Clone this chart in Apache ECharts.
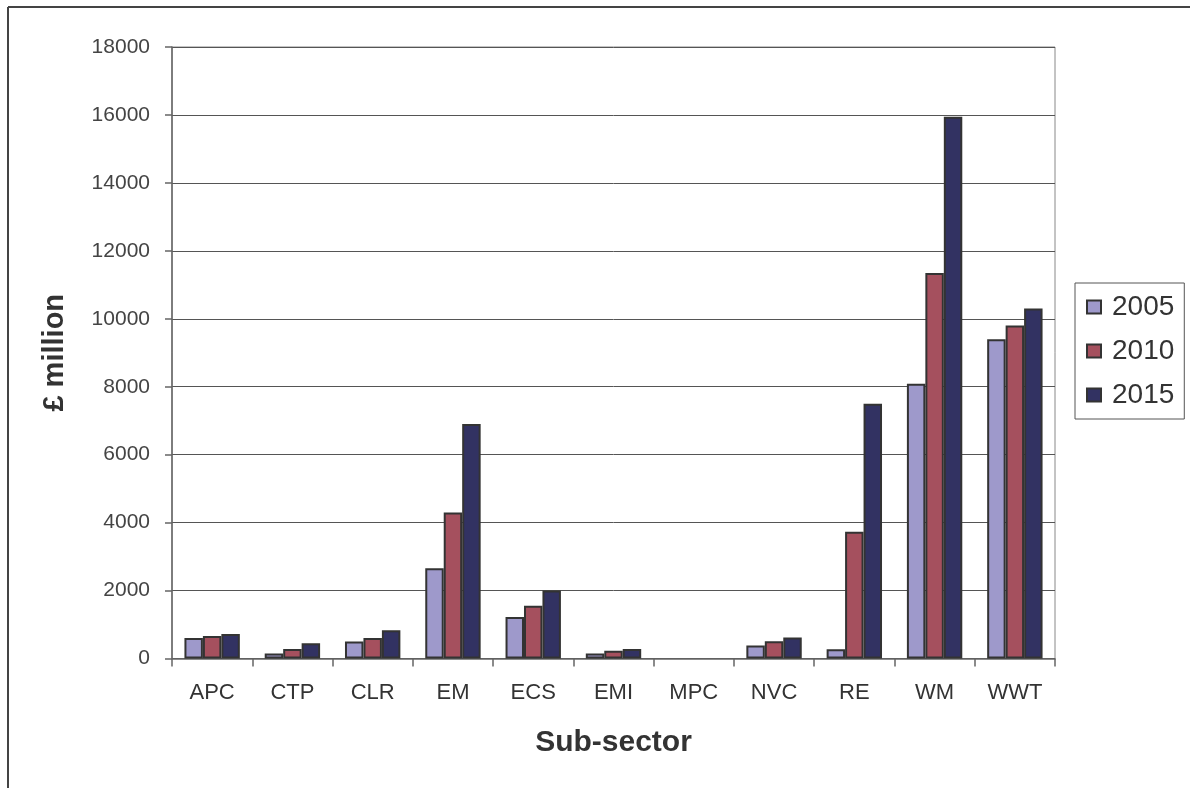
<!DOCTYPE html>
<html>
<head>
<meta charset="utf-8">
<script src="https://cdn.jsdelivr.net/npm/echarts@6/dist/echarts.min.js"></script>
<style>
html,body{margin:0;padding:0;background:#fff;}
#c{width:1190px;height:788px;}
</style>
</head>
<body>
<div id="c"></div>
<script>
const categories = ['APC','CTP','CLR','EM','ECS','EMI','MPC','NVC','RE','WM','WWT'];
const seriesNames = ['2005','2010','2015'];
const values2005 = [600, 150, 500, 2660, 1220, 150, 0, 380, 270, 8090, 9400];
const values2010 = [660, 280, 600, 4300, 1550, 230, 0, 510, 3730, 11350, 9800];
const values2015 = [720, 450, 830, 6900, 2000, 280, 0, 620, 7500, 15950, 10300];
const yTicks = [0, 2000, 4000, 6000, 8000, 10000, 12000, 14000, 16000, 18000];

const colors = ['#9E99CB', '#A5505E', '#323262'];
const allValues = [values2005, values2010, values2015];
const font = '"Liberation Sans", Arial, sans-serif';

const chart = echarts.init(document.getElementById('c'), null, {renderer: 'canvas'});
chart.setOption({
  animation: false,
  backgroundColor: '#fff',
  textStyle: {fontFamily: font, color: '#333'},
  grid: {
    left: 172, right: 135, top: 47, bottom: 129.5,
    show: true, borderColor: '#888', borderWidth: 1, backgroundColor: 'transparent'
  },
  legend: {
    orient: 'vertical',
    left: 1075, top: 283,
    padding: [10, 10, 10, 11],
    itemGap: 16,
    itemWidth: 14, itemHeight: 13,
    icon: 'rect',
    borderColor: '#555', borderWidth: 1,
    textStyle: {fontSize: 28, color: '#333', fontFamily: font, padding: [0, 0, 0, 6]},
    data: seriesNames
  },
  xAxis: {
    type: 'category',
    data: categories,
    name: 'Sub-sector',
    nameLocation: 'middle',
    nameGap: 69,
    nameTextStyle: {fontSize: 30, fontWeight: 'bold', color: '#333', fontFamily: font},
    axisLine: {lineStyle: {color: '#666', width: 1.5}},
    axisTick: {show: true, alignWithLabel: false, length: 8, lineStyle: {color: '#666', width: 1.5}},
    axisLabel: {fontSize: 22, color: '#333', margin: 23, fontFamily: font}
  },
  yAxis: {
    type: 'value',
    min: yTicks[0], max: yTicks[yTicks.length - 1], interval: yTicks[1] - yTicks[0],
    name: '£ million',
    nameLocation: 'middle',
    nameGap: 103,
    nameRotate: 90,
    nameTextStyle: {fontSize: 29, fontWeight: 'bold', color: '#333', fontFamily: font},
    axisLine: {show: true, lineStyle: {color: '#666', width: 1.5}},
    axisTick: {show: true, inside: false, length: 7, lineStyle: {color: '#666', width: 1.5}},
    axisLabel: {fontSize: 21, color: '#444', margin: 22, fontFamily: font, formatter: v => String(v)},
    splitLine: {show: true, lineStyle: {color: '#555', width: 1}}
  },
  graphic: [
    {type: 'line', shape: {x1: 8, y1: 7, x2: 1190, y2: 7}, style: {stroke: '#444', lineWidth: 2}},
    {type: 'line', shape: {x1: 8, y1: 7, x2: 8, y2: 788}, style: {stroke: '#444', lineWidth: 2}}
  ],
  series: seriesNames.map((n, i) => ({
    name: n,
    type: 'bar',
    data: allValues[i].map(v => (v === 0 ? '-' : v)),
    barGap: '0%',
    barCategoryGap: '31%',
    itemStyle: {color: colors[i], borderColor: '#333', borderWidth: 2}
  }))
});
</script>
</body>
</html>
